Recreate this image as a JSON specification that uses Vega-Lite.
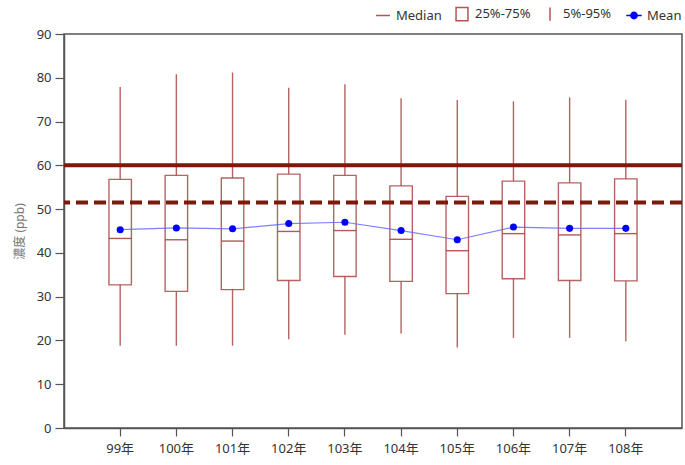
{
  "$schema": "https://vega.github.io/schema/vega-lite/v6.json",
  "width": 618,
  "height": 394,
  "autosize": {"type": "none"},
  "padding": {"left": 64, "top": 34, "right": 3, "bottom": 37},
  "background": "white",
  "config": {
    "font": "Noto Sans, Noto Sans CJK TC",
    "view": {"stroke": "#555", "strokeWidth": 1.5},
    "axis": {"domainColor": "#555", "domainWidth": 1.5, "tickColor": "#555", "tickWidth": 1.2, "labelColor": "#333", "labelFontSize": 13, "grid": false}
  },
  "datasets": {
    "boxes": [
      {"year": "99年", "p5": 18.8, "q1": 32.7, "median": 43.3, "mean": 45.3, "q3": 56.8, "p95": 77.9},
      {"year": "100年", "p5": 18.8, "q1": 31.2, "median": 43.0, "mean": 45.7, "q3": 57.7, "p95": 80.8},
      {"year": "101年", "p5": 18.8, "q1": 31.6, "median": 42.7, "mean": 45.5, "q3": 57.1, "p95": 81.2},
      {"year": "102年", "p5": 20.3, "q1": 33.7, "median": 44.9, "mean": 46.7, "q3": 58.0, "p95": 77.7},
      {"year": "103年", "p5": 21.3, "q1": 34.6, "median": 45.1, "mean": 47.0, "q3": 57.7, "p95": 78.5},
      {"year": "104年", "p5": 21.6, "q1": 33.5, "median": 43.1, "mean": 45.1, "q3": 55.3, "p95": 75.3},
      {"year": "105年", "p5": 18.4, "q1": 30.7, "median": 40.5, "mean": 43.0, "q3": 52.9, "p95": 74.9},
      {"year": "106年", "p5": 20.6, "q1": 34.1, "median": 44.4, "mean": 45.9, "q3": 56.4, "p95": 74.6},
      {"year": "107年", "p5": 20.6, "q1": 33.7, "median": 44.1, "mean": 45.6, "q3": 56.0, "p95": 75.5},
      {"year": "108年", "p5": 19.8, "q1": 33.6, "median": 44.4, "mean": 45.6, "q3": 56.9, "p95": 75.0}
    ],
    "limits": [
      {"value": 60, "style": "solid"},
      {"value": 51.5, "style": "dashed"}
    ],
    "legendItems": [
      {"item": "Median"},
      {"item": "25%-75%"},
      {"item": "5%-95%"},
      {"item": "Mean"}
    ]
  },
  "encoding": {
    "x": {
      "field": "year", "type": "nominal", "sort": null,
      "scale": {"paddingInner": 0.6, "paddingOuter": 0.8},
      "axis": {"title": null, "labelAngle": 0, "tickSize": 8, "labelPadding": 6}
    }
  },
  "layer": [
    {
      "data": {"name": "boxes"},
      "mark": {"type": "rule", "color": "#a84848", "strokeWidth": 1.4, "opacity": 0.85},
      "encoding": {
        "y": {"field": "p5", "type": "quantitative", "scale": {"domain": [0, 90]},
              "axis": {"title": "濃度 (ppb)", "titleColor": "#777", "titleFontSize": 12, "titleFontWeight": "normal", "titlePadding": 10, "values": [0,10,20,30,40,50,60,70,80,90], "tickSize": 9, "labelPadding": 4}},
        "y2": {"field": "p95"}
      }
    },
    {
      "data": {"name": "boxes"},
      "mark": {"type": "bar", "fill": "white", "stroke": "#a84848", "strokeWidth": 1.4, "strokeOpacity": 0.85},
      "encoding": {
        "y": {"field": "q1", "type": "quantitative"},
        "y2": {"field": "q3"}
      }
    },
    {
      "data": {"name": "boxes"},
      "mark": {"type": "tick", "color": "#a84848", "thickness": 1.4, "size": 22.5, "opacity": 0.9},
      "encoding": {
        "y": {"field": "median", "type": "quantitative"}
      }
    },
    {
      "data": {"name": "limits"},
      "mark": {"type": "rule", "color": "#7b1a0a", "strokeWidth": 4},
      "encoding": {
        "x": null,
        "y": {"field": "value", "type": "quantitative"},
        "strokeDash": {"field": "style", "type": "nominal", "scale": {"domain": ["solid", "dashed"], "range": [[1, 0], [12, 6]]}, "legend": null}
      }
    },
    {
      "data": {"name": "boxes"},
      "mark": {"type": "line", "color": "#6060ff", "strokeWidth": 1.2, "opacity": 0.8},
      "encoding": {
        "y": {"field": "mean", "type": "quantitative"}
      }
    },
    {
      "data": {"name": "boxes"},
      "mark": {"type": "point", "filled": true, "color": "#0000ff", "size": 50, "opacity": 1},
      "encoding": {
        "y": {"field": "mean", "type": "quantitative"}
      }
    },
    {
      "data": {"name": "legendItems"},
      "mark": {"type": "point", "opacity": 0},
      "encoding": {
        "x": null,
        "shape": {"field": "item", "type": "nominal", "sort": null,
          "scale": {"domain": ["Median", "25%-75%", "5%-95%", "Mean"],
                    "range": ["M-1,0H1", "M-0.85,-0.95H0.85V0.95H-0.85Z", "M0,-0.95V0.95", "M-1.1,0H-0.45M0.45,0H1.1M-0.45,0A0.45,0.45 0 1,0 0.45,0A0.45,0.45 0 1,0 -0.45,0Z"]},
          "legend": {"title": null, "orient": "none", "direction": "horizontal", "legendX": 311, "legendY": -28,
                     "labelFontSize": 13, "labelColor": "#333", "symbolSize": 196, "symbolStrokeWidth": 1.5,
                     "symbolOpacity": 1, "labelOffset": 5, "columnPadding": 11, "padding": 0}},
        "stroke": {"field": "item", "type": "nominal", "sort": null,
          "scale": {"domain": ["Median", "25%-75%", "5%-95%", "Mean"], "range": ["#b35555", "#b35555", "#b35555", "#0000ff"]}},
        "fill": {"field": "item", "type": "nominal", "sort": null,
          "scale": {"domain": ["Median", "25%-75%", "5%-95%", "Mean"], "range": ["transparent", "transparent", "transparent", "#0000ff"]}}
      }
    }
  ]
}
